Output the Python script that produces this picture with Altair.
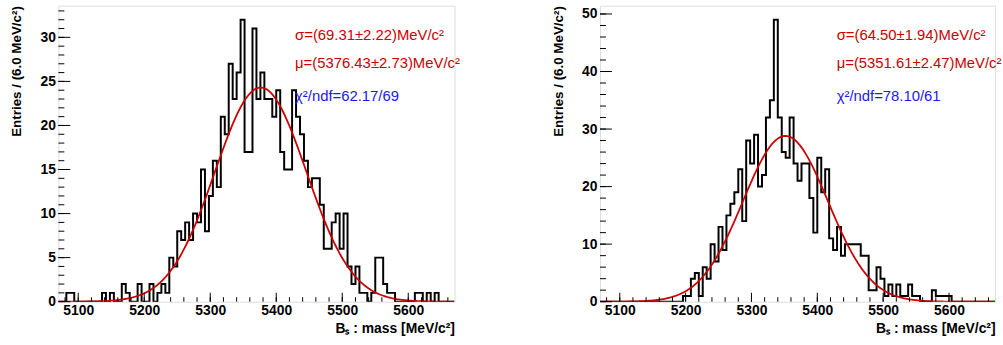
import altair as alt
import numpy as np
import pandas as pd

# ---------------- data ----------------
BIN_LO = 5070.0
BIN_W = 6.0
X_MAX = 5670.0

left_counts = [0, 0, 1, 1, 0, 0, 0, 0, 0, 0,
               0, 1, 0, 1, 0, 0, 2, 1, 0, 0,
               2, 0, 0, 2, 0, 1, 2, 1, 5, 4,
               8, 7, 9, 7, 10, 9, 15, 8, 12, 16,
               13, 21, 19, 27, 23, 26, 32, 17, 17, 31,
               23, 26, 23, 23, 21, 24, 17, 15, 15, 24,
               21, 19, 16, 13, 14, 14, 11, 6, 6, 9,
               10, 6, 10, 4, 2, 4, 1, 1, 0, 1,
               5, 5, 2, 1, 1, 0, 0, 0, 0, 0,
               1, 1, 0, 1, 0, 1, 0, 0, 0, 0]

right_counts = [0, 0, 0, 0, 0, 0, 0, 0, 0, 0,
                0, 0, 0, 0, 0, 0, 0, 0, 0, 0,
                0, 1, 1, 4, 5, 1, 6, 4, 10, 7,
                13, 9, 15, 17, 19, 23, 14, 28, 24, 29,
                20, 22, 32, 35, 49, 32, 26, 25, 32, 24,
                21, 24, 24, 18, 12, 25, 19, 23, 11, 9,
                13, 8, 10, 10, 10, 10, 8, 8, 2, 2,
                6, 4, 1, 3, 1, 3, 1, 1, 3, 1,
                1, 0, 0, 0, 2, 1, 1, 1, 1, 0,
                0, 0, 0, 0, 0, 0, 0, 0, 0, 0]

# fit parameters (as printed on the plot) and fitted peak height
left_fit = {"mu": 5376.43, "sigma": 69.31, "amp": 24.3}
right_fit = {"mu": 5351.61, "sigma": 64.50, "amp": 28.8}

left_texts = ["σ=(69.31±2.22)MeV/c²", "μ=(5376.43±2.73)MeV/c²", "χ²/ndf=62.17/69"]
right_texts = ["σ=(64.50±1.94)MeV/c²", "μ=(5351.61±2.47)MeV/c²", "χ²/ndf=78.10/61"]

x_major = [5100, 5200, 5300, 5400, 5500, 5600]
x_minor = list(range(5080, 5661, 20))
left_y_major = [0, 5, 10, 15, 20, 25, 30]
left_y_minor = list(range(0, 34))
right_y_major = [0, 10, 20, 30, 40, 50]
right_y_minor = list(range(0, 52, 2))
left_ymax = 33.6
right_ymax = 51.45

x_title = "Bₛ : mass [MeV/c²]"
y_title = "Entries / (6.0 MeV/c²)"

RED = "#cc0000"
BLUE = "#1a1aee"
FONT = "Liberation Sans"
H = 299


def panel(counts, fit, texts, ymax, ymaj, ymin, width):
    edges = [BIN_LO + BIN_W * i for i in range(len(counts) + 1)]
    hist_df = pd.DataFrame({"x": edges, "y": counts + [counts[-1]]})
    xs = np.arange(BIN_LO, X_MAX + 0.1, 2.0)
    fit_df = pd.DataFrame({"x": xs,
                           "y": fit["amp"] * np.exp(-0.5 * ((xs - fit["mu"]) / fit["sigma"]) ** 2)})
    xscale = alt.Scale(domain=[BIN_LO, X_MAX], nice=False, zero=False)
    yscale = alt.Scale(domain=[0, ymax], nice=False, zero=True)

    xaxis = alt.Axis(
        title=x_title, values=x_major, format="d", ticks=False, tickSize=0,
        domain=False, grid=False, labelFont=FONT, labelFontWeight="bold",
        labelFontSize=14, labelColor="black", labelPadding=2,
        titleFont=FONT, titleFontWeight="bold", titleFontSize=14, titleColor="black",
        titleAnchor="end", titleAlign="right", titleX=width, titleY=31,
        titleBaseline="alphabetic", labelFlush=False)
    yaxis = alt.Axis(
        title=y_title, values=ymaj, format="d", ticks=False, tickSize=0,
        domain=False, grid=False, labelFont=FONT, labelFontWeight="bold",
        labelFontSize=14, labelColor="black", labelPadding=3,
        titleFont=FONT, titleFontWeight="bold", titleFontSize=13.5, titleColor="black",
        titleAngle=270, titleAlign="right", titleX=-38, titleY=0,
        titleBaseline="alphabetic", labelFlush=False)

    X = lambda f: alt.X(f, scale=xscale, axis=xaxis, title=x_title)
    Y = lambda f: alt.Y(f, scale=yscale, axis=yaxis, title=y_title)

    hist = alt.Chart(hist_df).mark_line(
        interpolate="step-after", color="black", strokeWidth=2, clip=True
    ).encode(x=X("x:Q"), y=Y("y:Q"))

    fitline = alt.Chart(fit_df).mark_line(color=RED, strokeWidth=1.8, clip=True).encode(
        x=X("x:Q"), y=Y("y:Q"))

    def yticks(vals, length):
        return alt.Chart(pd.DataFrame({"y": vals})).mark_rule(color="black", strokeWidth=1).encode(
            y=Y("y:Q"), x=alt.value(0), x2=alt.value(length))

    def xticks(vals, length):
        return alt.Chart(pd.DataFrame({"x": vals})).mark_rule(color="black", strokeWidth=1).encode(
            x=X("x:Q"), y=alt.value(H), y2=alt.value(H - length))

    text_layers = []
    for t, ypix, col in zip(texts, [30, 58, 91], [RED, RED, BLUE]):
        text_layers.append(
            alt.Chart(pd.DataFrame({"t": [t]})).mark_text(
                align="left", baseline="middle", font=FONT, fontSize=15, color=col
            ).encode(text="t:N", x=alt.value(239), y=alt.value(ypix))
        )

    return alt.layer(
        hist, fitline,
        yticks(ymin, 6), yticks(ymaj, 12),
        xticks(x_minor, 4.5), xticks(x_major, 9),
        *text_layers
    ).properties(width=width, height=H)


left = panel(left_counts, left_fit, left_texts, left_ymax, left_y_major, left_y_minor, 400)
right = panel(right_counts, right_fit, right_texts, right_ymax, right_y_major, right_y_minor, 399)

chart = alt.hconcat(left, right, spacing=90).configure_view(
    stroke="black", strokeWidth=1.4
).configure(background="white").properties(
    padding={"left": 9, "top": 3, "right": 0, "bottom": 0}
)

chart.save("out.html", embed_options={"renderer": "svg", "actions": False})
